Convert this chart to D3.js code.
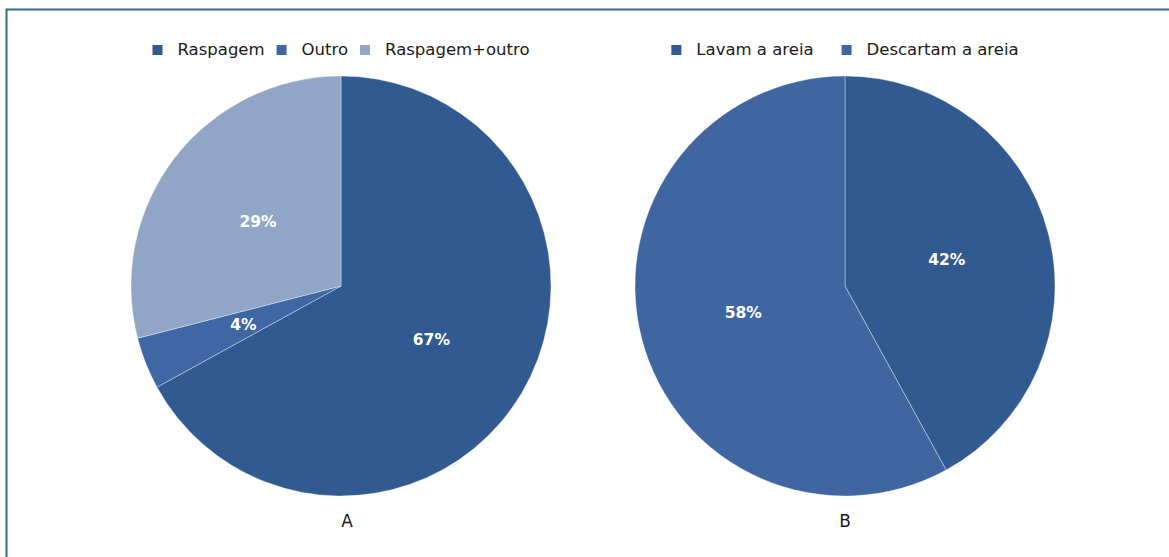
<!DOCTYPE html>
<html>
<head>
<meta charset="utf-8">
<script src="https://cdn.jsdelivr.net/npm/d3@7"></script>
<style>
  body { margin: 0; background: #fff; }
  svg { display: block; font-family: "DejaVu Sans", sans-serif; }
</style>
</head>
<body>
<svg id="chart" width="1169" height="557"></svg>
<script>
// chart A
var catsA = ["Raspagem", "Outro", "Raspagem+outro"];
var valsA = [67, 4, 29];
var colorsA = ["#315a91", "#3f67a3", "#91a5c6"];

// chart B
var catsB = ["Lavam a areia", "Descartam a areia"];
var valsB = [42, 58];
var colorsB = ["#315a91", "#4066a2"];

var titles = ["A", "B"];

var svg = d3.select("#chart");

// frame (only top and left edges show)
svg.append("path")
  .attr("d", "M6.5,557 V9.5 H1169")
  .attr("fill", "none")
  .attr("stroke", "#35698c")
  .attr("stroke-width", 2);

var R = 210;
var centerX = d3.scalePoint().domain(titles).range([341, 845]);
var cy = 286;

function drawPie(name, cats, vals, colors, legendGap) {
  var cx = centerX(name);
  var color = d3.scaleOrdinal().domain(cats).range(colors);
  var data = cats.map(function(c, i) { return {cat: c, val: vals[i]}; });

  var pie = d3.pie().sort(null).value(function(d) { return d.val; });
  var arc = d3.arc().innerRadius(0).outerRadius(R);

  var g = svg.append("g").attr("transform", "translate(" + cx + "," + cy + ")");
  var arcs = pie(data);

  g.selectAll("path")
    .data(arcs)
    .enter().append("path")
    .attr("d", arc)
    .attr("fill", function(d) { return color(d.data.cat); })
    .attr("stroke", "rgba(255,255,255,0.45)")
    .attr("stroke-width", 0.8);

  g.selectAll("text")
    .data(arcs)
    .enter().append("text")
    .attr("transform", function(d) { return "translate(" + arc.centroid(d) + ")"; })
    .attr("text-anchor", "middle")
    .attr("dy", "0.36em")
    .attr("fill", "#fff")
    .attr("font-weight", "bold")
    .attr("font-size", 15.5)
    .text(function(d) { return Math.round(d.data.val) + "%"; });

  // legend, centered above the pie
  var leg = svg.append("g");
  var items = leg.selectAll("g")
    .data(cats)
    .enter().append("g");
  items.append("rect")
    .attr("width", 10).attr("height", 10)
    .attr("y", 45)
    .attr("fill", function(d) { return color(d); });
  items.append("text")
    .attr("x", 25)
    .attr("y", 55)
    .attr("font-size", 16.5)
    .attr("fill", "#1a1a1a")
    .text(function(d) { return d; });

  var x = 0;
  items.each(function() {
    var w = this.getBBox().width;
    d3.select(this).attr("transform", "translate(" + x + ",0)");
    x += w + legendGap;
  });
  var total = x - legendGap;
  leg.attr("transform", "translate(" + (cx - total / 2) + ",0)");

  svg.append("text")
    .attr("x", cx + (name == "A" ? 6 : 0))
    .attr("y", 527)
    .attr("text-anchor", "middle")
    .attr("font-size", 17)
    .attr("fill", "#1a1a1a")
    .text(name);
}

drawPie("A", catsA, valsA, colorsA, 12);
drawPie("B", catsB, valsB, colorsB, 28);
</script>
</body>
</html>
